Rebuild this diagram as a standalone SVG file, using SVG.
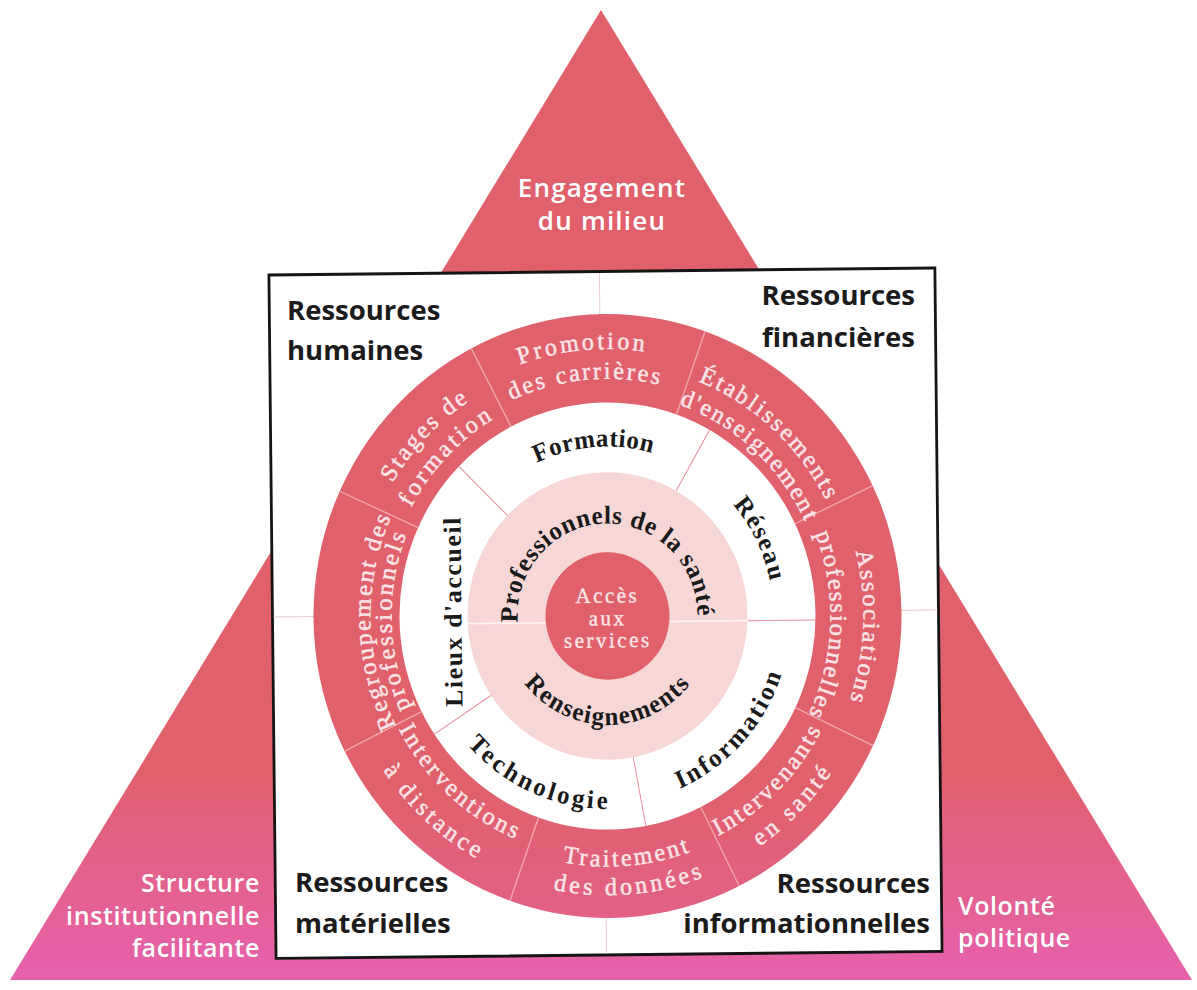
<svg xmlns="http://www.w3.org/2000/svg" width="1197" height="990" viewBox="0 0 1197 990">
<style>
.tri{font-family:"Open Sans","Liberation Sans",sans-serif;font-weight:600;font-size:25px;fill:#ffffff;letter-spacing:0.6px}
.res{font-family:"Open Sans","Liberation Sans",sans-serif;font-weight:700;font-size:27.5px;fill:#1b1b1b}
.rt{font-family:"Liberation Serif",serif;font-size:24px;fill:#FBE4E6;stroke:#FBE4E6;stroke-width:0.5px;letter-spacing:2px}
.wt{font-family:"Liberation Serif",serif;font-weight:700;font-size:25px;fill:#1a1a1a;letter-spacing:1.6px}
.ct{font-family:"Liberation Serif",serif;font-size:21px;fill:#FBE4E6;stroke:#FBE4E6;stroke-width:0.4px;letter-spacing:2.5px;text-anchor:middle}
.divr{stroke:#F3A9B0;stroke-width:1.3}
.divw{stroke:#E58D99;stroke-width:1}
.quad{stroke:#E6CFCF;stroke-width:1}
</style>
<defs>
<linearGradient id="triGrad" gradientUnits="userSpaceOnUse" x1="0" y1="770" x2="0" y2="980">
<stop offset="0" stop-color="#E0606C"/>
<stop offset="1" stop-color="#E661AD"/>
</linearGradient>
<linearGradient id="ringGrad" gradientUnits="userSpaceOnUse" x1="0" y1="170" x2="0" y2="400">
<stop offset="0" stop-color="#E0606C"/>
<stop offset="1" stop-color="#E4619A"/>
</linearGradient>
<path id="cw260" d="M -259.01 -22.66 A 260 260 0 0 1 259.01 -22.66"/>
<path id="cw231" d="M -230.12 -20.13 A 231 231 0 0 1 230.12 -20.13"/>
<path id="cw251" d="M -250.04 -21.88 A 251 251 0 0 1 250.04 -21.88"/>
<path id="cw223" d="M -222.15 -19.44 A 223 223 0 0 1 222.15 -19.44"/>
<path id="cw246" d="M -245.06 -21.44 A 246 246 0 0 1 245.06 -21.44"/>
<path id="cw218" d="M -217.17 -19.00 A 218 218 0 0 1 217.17 -19.00"/>
<path id="cw256" d="M -255.02 -22.31 A 256 256 0 0 1 255.02 -22.31"/>
<path id="cw237" d="M -236.10 -20.66 A 237 237 0 0 1 236.10 -20.66"/>
<path id="cw216" d="M -215.18 -18.83 A 216 216 0 0 1 215.18 -18.83"/>
<path id="cw165" d="M -164.37 -14.38 A 165 165 0 0 1 164.37 -14.38"/>
<path id="cw166" d="M -165.37 -14.47 A 166 166 0 0 1 165.37 -14.47"/>
<path id="cw90" d="M -77.94 45 A 90 90 0 1 1 77.94 45"/>
<path id="cc244" d="M -243.07 21.27 A 244 244 0 0 0 243.07 21.27"/>
<path id="cc272" d="M -270.96 23.71 A 272 272 0 0 0 270.96 23.71"/>
<path id="cc241" d="M -240.08 21.01 A 241 241 0 0 0 240.08 21.01"/>
<path id="cc271" d="M -269.97 23.62 A 271 271 0 0 0 269.97 23.62"/>
<path id="cc236" d="M -235.10 20.57 A 236 236 0 0 0 235.10 20.57"/>
<path id="cc270" d="M -268.97 23.53 A 270 270 0 0 0 268.97 23.53"/>
<path id="cc188" d="M -187.28 16.39 A 188 188 0 0 0 187.28 16.39"/>
<path id="cc183" d="M -182.30 15.95 A 183 183 0 0 0 182.30 15.95"/>
<path id="cc106" d="M -105.60 9.24 A 106 106 0 0 0 105.60 9.24"/>
</defs>

<g id="triangle">
<polygon points="601,10 1192,980 10,980" fill="url(#triGrad)"/>
<text class="tri" x="602" y="197" text-anchor="middle" style="font-size:26px;letter-spacing:1.2px">Engagement</text>
<text class="tri" x="602" y="230" text-anchor="middle" style="font-size:26px;letter-spacing:1.2px">du milieu</text>
</g>
<g id="structure-label">
<text class="tri" x="260" y="892" text-anchor="end">Structure</text>
<text class="tri" x="260" y="925" text-anchor="end">institutionnelle</text>
<text class="tri" x="260" y="957" text-anchor="end">facilitante</text>
</g>
<g id="volonte-label">
<text class="tri" x="958" y="915">Volonté</text>
<text class="tri" x="958" y="947">politique</text>
</g>

<g id="diagram" transform="translate(607.5 616) rotate(-0.6) scale(1 1.027)">
<rect id="square" x="-335" y="-335.5" width="666" height="665.5" fill="#ffffff" stroke="#151515" stroke-width="2.8"/>
<g id="connectors">
<line class="quad" x1="-4.5" y1="-334" x2="-4.5" y2="-293"/>
<line class="quad" x1="-4.5" y1="293" x2="-4.5" y2="329"/>
<line class="quad" x1="-334" y1="-2.5" x2="-293" y2="-2.5"/>
<line class="quad" x1="293" y1="-2.5" x2="330" y2="-2.5"/>
</g>
<circle id="outer-ring" r="294" fill="url(#ringGrad)"/>
<circle id="middle-ring" r="208" fill="#ffffff"/>
<circle id="inner-ring" r="140" fill="#F7D6D6"/>
<g id="dividers">
<line class="divr" x1="-186.9" y1="91.2" x2="-264.2" y2="128.9"/>
<line class="divr" x1="-188.5" y1="-87.9" x2="-266.5" y2="-124.2"/>
<line class="divr" x1="-94.4" y1="-185.3" x2="-133.5" y2="-262.0"/>
<line class="divr" x1="71.1" y1="-195.5" x2="100.5" y2="-276.3"/>
<line class="divr" x1="188.5" y1="-87.9" x2="266.5" y2="-124.2"/>
<line class="divr" x1="186.9" y1="91.2" x2="264.2" y2="128.9"/>
<line class="divr" x1="91.2" y1="186.9" x2="128.9" y2="264.2"/>
<line class="divr" x1="-71.1" y1="195.5" x2="-100.5" y2="276.3"/>
<line class="divw" x1="-99" y1="-99" x2="-147.1" y2="-147.1"/>
<line class="divw" x1="70" y1="-121.2" x2="104" y2="-180.1"/>
<line class="divw" x1="140" y1="6" x2="208" y2="6"/>
<line class="divw" x1="24.3" y1="137.9" x2="36.1" y2="204.8"/>
<line class="divw" x1="-117.4" y1="76.2" x2="-174.4" y2="113.3"/>
<line x1="-140" y1="6" x2="140" y2="6" stroke="#FFF3F3" stroke-width="1.6"/>
</g>
<circle id="center-circle" r="62" fill="#E0606C"/>

<g id="seg-promotion">
<text class="rt" text-anchor="middle" transform="rotate(-5)"><textPath href="#cw260" startOffset="50%" textLength="128" lengthAdjust="spacing">Promotion</textPath></text>
<text class="rt" text-anchor="middle" transform="rotate(-5)"><textPath href="#cw231" startOffset="50%" textLength="153" lengthAdjust="spacing">des carrières</textPath></text>
</g>
<g id="seg-stages">
<text class="rt" text-anchor="middle" transform="rotate(-45.5)"><textPath href="#cw251" startOffset="50%" textLength="113" lengthAdjust="spacing">Stages de</textPath></text>
<text class="rt" text-anchor="middle" transform="rotate(-45.5)"><textPath href="#cw223" startOffset="50%" textLength="122" lengthAdjust="spacing">formation</textPath></text>
</g>
<g id="seg-etablissements">
<text class="rt" text-anchor="middle" transform="rotate(43)"><textPath href="#cw246" startOffset="50%" textLength="178" lengthAdjust="spacing">Établissements</textPath></text>
<text class="rt" text-anchor="middle" transform="rotate(43)"><textPath href="#cw218" startOffset="50%" textLength="176" lengthAdjust="spacing">d'enseignement</textPath></text>
</g>
<g id="seg-associations">
<text class="rt" text-anchor="middle" transform="rotate(93)"><textPath href="#cw256" startOffset="50%" textLength="149" lengthAdjust="spacing">Associations</textPath></text>
<text class="rt" text-anchor="middle" transform="rotate(93)"><textPath href="#cw223" startOffset="50%" textLength="183" lengthAdjust="spacing">professionnelles</textPath></text>
</g>
<g id="seg-regroupement">
<text class="rt" text-anchor="middle" transform="rotate(-90.7)"><textPath href="#cw237" startOffset="50%" textLength="212" lengthAdjust="spacing">Regroupement des</textPath></text>
<text class="rt" text-anchor="middle" transform="rotate(-90.7)"><textPath href="#cw216" startOffset="50%" textLength="175" lengthAdjust="spacing">professionnels</textPath></text>
</g>
<g id="seg-traitement">
<text class="rt" text-anchor="middle" transform="rotate(-4.1)"><textPath href="#cc244" startOffset="50%" textLength="131" lengthAdjust="spacing">Traitement</textPath></text>
<text class="rt" text-anchor="middle" transform="rotate(-4.1)"><textPath href="#cc272" startOffset="50%" textLength="154" lengthAdjust="spacing">des données</textPath></text>
</g>
<g id="seg-intervenants">
<text class="rt" text-anchor="middle" transform="rotate(-44.5)"><textPath href="#cc241" startOffset="50%" textLength="150" lengthAdjust="spacing">Intervenants</textPath></text>
<text class="rt" text-anchor="middle" transform="rotate(-44.5)"><textPath href="#cc271" startOffset="50%" textLength="104" lengthAdjust="spacing">en santé</textPath></text>
</g>
<g id="seg-interventions">
<text class="rt" text-anchor="middle" transform="rotate(43)"><textPath href="#cc236" startOffset="50%" textLength="163" lengthAdjust="spacing">Interventions</textPath></text>
<text class="rt" text-anchor="middle" transform="rotate(43)"><textPath href="#cc270" startOffset="50%" textLength="130" lengthAdjust="spacing">à distance</textPath></text>
</g>

<g id="w-formation"><text class="wt" text-anchor="middle" transform="rotate(-4)"><textPath href="#cw165" startOffset="50%" textLength="120" lengthAdjust="spacing">Formation</textPath></text></g>
<g id="w-reseau"><text class="wt" text-anchor="middle" transform="rotate(64.5)"><textPath href="#cw166" startOffset="50%" textLength="86" lengthAdjust="spacing">Réseau</textPath></text></g>
<g id="w-lieux"><text class="wt" text-anchor="middle" x="0" y="0" transform="translate(-146 -6) rotate(-90)">Lieux d'accueil</text></g>
<g id="w-technologie"><text class="wt" text-anchor="middle" transform="rotate(24.5)"><textPath href="#cc188" startOffset="50%" textLength="160" lengthAdjust="spacing">Technologie</textPath></text></g>
<g id="w-information"><text class="wt" text-anchor="middle" transform="rotate(-47.2)"><textPath href="#cc183" startOffset="50%" textLength="157" lengthAdjust="spacing">Information</textPath></text></g>

<g id="p-professionnels"><text class="wt" text-anchor="middle" style="letter-spacing:0.7px" transform="rotate(-1.3)"><textPath href="#cw90" startOffset="50%">Professionnels de la santé</textPath></text></g>
<g id="p-renseignements"><text class="wt" text-anchor="middle" style="letter-spacing:1.8px" transform="rotate(0.5)"><textPath href="#cc106" startOffset="50%" textLength="192" lengthAdjust="spacing">Renseignements</textPath></text></g>

<g id="acces">
<text class="ct" x="0" y="-13">Accès</text>
<text class="ct" x="0" y="9">aux</text>
<text class="ct" x="0" y="30.5">services</text>
</g>
</g>

<g id="res-humaines">
<text class="res" x="287" y="320">Ressources</text>
<text class="res" x="287" y="360">humaines</text>
</g>
<g id="res-financieres">
<text class="res" x="915" y="305" text-anchor="end">Ressources</text>
<text class="res" x="915" y="347" text-anchor="end">financières</text>
</g>
<g id="res-materielles">
<text class="res" x="295" y="892">Ressources</text>
<text class="res" x="295" y="933">matérielles</text>
</g>
<g id="res-informationnelles">
<text class="res" x="930" y="893" text-anchor="end">Ressources</text>
<text class="res" x="930" y="933" text-anchor="end">informationnelles</text>
</g>
</svg>
